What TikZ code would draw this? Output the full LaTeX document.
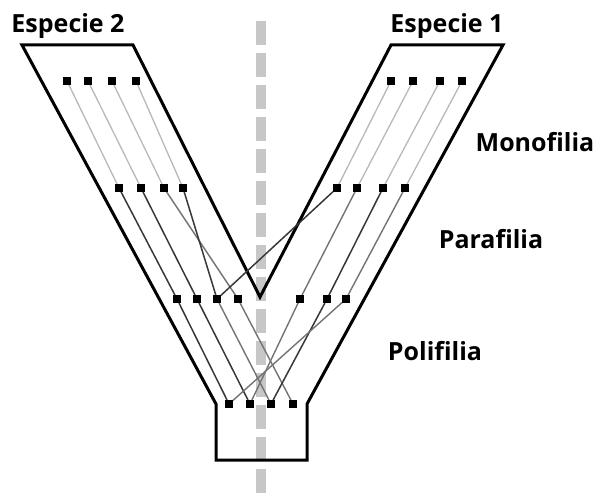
\documentclass[tikz,border=0pt]{standalone}
\usepackage{fontspec}
\setmainfont{Open Sans}
\begin{document}
\begin{tikzpicture}[x=1pt,y=-1pt,
  dot/.style={rectangle,fill=black,minimum size=7.5pt,inner sep=0pt},
  lbl/.style={anchor=base,font=\bfseries\fontsize{25}{27}\selectfont,inner sep=0pt},
  outline/.style={line width=3pt,line join=miter},
  lightc/.style={line width=1.3pt,draw=black!28},
  midc/.style={line width=1.4pt,draw=black!55},
  darkc/.style={line width=1.5pt,draw=black!78},
  axis/.style={line width=10pt,draw=black!22,dash pattern=on 24pt off 8pt}]
\useasboundingbox (0,0) rectangle (594,500);
% axis
\coordinate (axT) at (261,21);
\coordinate (axB) at (261,500);
\draw[axis] (axT) -- (axB);
% outline
\draw[outline] (22,45) -- (133,45) -- (260,297) -- (391,45) -- (503,45) -- (307,404) -- (307,460) -- (216,460) -- (216,404) -- cycle;
% dots
\foreach \n/\x/\y in {L1a/67/81,L1b/88/81,L1c/112/81,L1d/136/81,
  R1a/391/81,R1b/413/81,R1c/440/81,R1d/462/81,
  L2a/119/188,L2b/141/188,L2c/164/188,L2d/183/188,
  R2a/337/188,R2b/357/188,R2c/383/188,R2d/405/188,
  L3a/177/299,L3b/197/299,L3c/217/299,L3d/238/299,
  R3a/300/299,R3b/327/299,R3c/346/299,
  Ba/229/404,Bb/250/404,Bc/271/404,Bd/293/404}
  \node[dot] (\n) at (\x,\y) {};
% connectors
\draw[lightc] (L1a) -- (L2a);
\draw[lightc] (L1b) -- (L2b);
\draw[lightc] (L1c) -- (L2c);
\draw[lightc] (L1d) -- (L2d);
\draw[lightc] (R1a) -- (R2a);
\draw[lightc] (R1b) -- (R2b);
\draw[lightc] (R1c) -- (R2c);
\draw[lightc] (R1d) -- (R2d);
\draw[darkc] (L2a) -- (L3a);
\draw[darkc] (L2b) -- (L3b);
\draw[midc] (L2c) -- (L3d);
\draw[darkc] (L2d) -- (L3c);
\draw[darkc] (R2a) -- (L3c);
\draw[midc] (R2b) -- (R3a);
\draw[darkc] (R2c) -- (R3b);
\draw[midc] (R2d) -- (R3c);
\draw[darkc] (L3a) -- (Ba);
\draw[darkc] (L3b) -- (Bb);
\draw[midc] (L3c) -- (Bc);
\draw[midc] (L3d) -- (Bd);
\draw[midc] (R3a) -- (Bb);
\draw[darkc] (R3b) -- (Bc);
\draw[midc] (R3c) -- (Ba);
% redraw dots on top
\foreach \n in {L1a,L1b,L1c,L1d,R1a,R1b,R1c,R1d,L2a,L2b,L2c,L2d,R2a,R2b,R2c,R2d,L3a,L3b,L3c,L3d,R3a,R3b,R3c,Ba,Bb,Bc,Bd}
  \fill (\n.south west) rectangle (\n.north east);
% labels
\node[lbl] (sp2) at (68,33) {Especie 2};
\node[lbl] (sp1) at (447,33) {Especie 1};
\node[lbl] (mono) at (535,151) {Monofilia};
\node[lbl] (para) at (491,248) {Parafilia};
\node[lbl] (poli) at (435,360) {Polifilia};
\end{tikzpicture}
\end{document}
